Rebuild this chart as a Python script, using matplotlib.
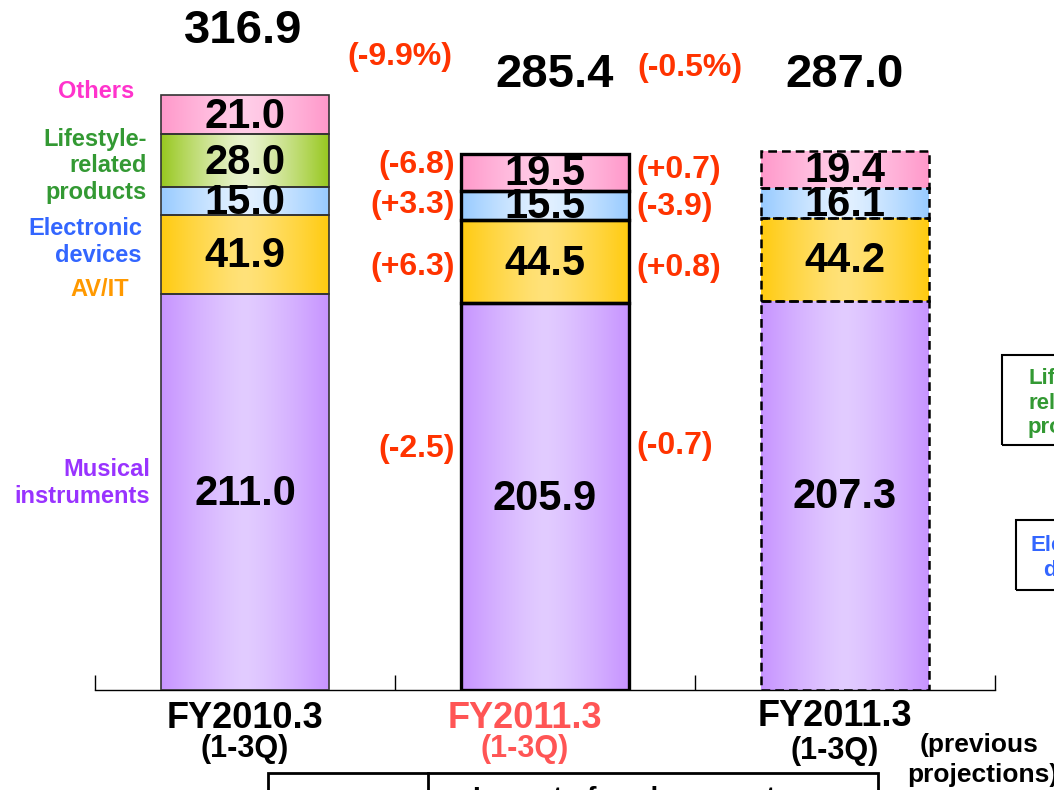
import numpy as np
import matplotlib
matplotlib.use('Agg')
import matplotlib.pyplot as plt
import matplotlib.patches as mpatches
from matplotlib.colors import to_rgb

plt.rcParams['font.family'] = ['Liberation Sans', 'DejaVu Sans']
plt.rcParams['font.weight'] = 'bold'

# data (billion yen), stacked bottom -> top
segments = ["Musical\ninstruments", "AV/IT", "Electronic\ndevices", "Lifestyle-\nrelated\nproducts", "Others"]
musical = [211.0, 205.9, 207.3]
avit = [41.9, 44.5, 44.2]
electronic = [15.0, 15.5, 16.1]
lifestyle = [28.0, 0.0, 0.0]
others = [21.0, 19.5, 19.4]
totals = [316.9, 285.4, 287.0]
periods = ["FY2010.3", "FY2011.3", "FY2011.3"]
period_sub = ["(1-3Q)", "(1-3Q)", "(1-3Q)"]
total_change = ["(-9.9%)", "(-0.5%)"]
yoy_change = ["(-2.5)", "(+6.3)", "(+3.3)", "(-6.8)"]
vs_prev_change = ["(-0.7)", "(+0.8)", "(-3.9)", "(+0.7)"]

W, H = 1054, 790
fig = plt.figure(figsize=(W / 100, H / 100), dpi=100)
ax = fig.add_axes([95 / W, 100 / H, 900 / W, 690 / H])
PXU = 595 / 316.9          # pixels per unit on the value axis
YMAX = 690 / PXU
ax.set_xlim(-0.5, 2.5)
ax.set_ylim(0, YMAX)


def yd(py):
    # pixel row (from top of figure) -> data y
    return (690 - py) / PXU


def xd(px):
    return (px - 95) / 300 - 0.5


grad = {  # (edge colour, centre colour)
    "Musical\ninstruments": ("#C794FF", "#E2CCFF"),
    "AV/IT": ("#FFCB10", "#FFE27A"),
    "Electronic\ndevices": ("#98CBFF", "#E3F1FF"),
    "Lifestyle-\nrelated\nproducts": ("#98C820", "#EAF3D0"),
    "Others": ("#FF98CA", "#FFCDE8"),
}
edge_styles = [dict(edgecolor="#333333", linewidth=1.2, linestyle="-"),
               dict(edgecolor="black", linewidth=2.4, linestyle="-"),
               dict(edgecolor="black", linewidth=1.8, linestyle=(0, (3.5, 2)))]

x = np.arange(3)
bw = 0.557
series = [musical, avit, electronic, lifestyle, others]
t = np.abs(np.linspace(-1, 1, 200)) ** 1.3
bottom = np.zeros(3)
for name, vals in zip(segments, series):
    vals = np.array(vals)
    e, c = np.array(to_rgb(grad[name][0])), np.array(to_rgb(grad[name][1]))
    img = (c[None, :] * (1 - t[:, None]) + e[None, :] * t[:, None])[None, :, :]
    for i in range(3):
        if vals[i] <= 0:
            continue
        bars = ax.bar(x[i], vals[i], bw, bottom=bottom[i], facecolor="none", zorder=3, **edge_styles[i])
        im = ax.imshow(img, extent=[x[i] - bw / 2, x[i] + bw / 2, bottom[i], bottom[i] + vals[i]],
                       aspect="auto", zorder=2, interpolation="bilinear")
        im.set_clip_path(bars.patches[0])
        ax.text(x[i], bottom[i] + vals[i] / 2 - 1.0, "%.1f" % vals[i], ha="center", va="center",
                fontsize=30, fontweight="bold", zorder=4)
    bottom += vals
ax.set_xlim(-0.5, 2.5)
ax.set_ylim(0, YMAX)

# totals
ax.text(xd(243), yd(31), "%.1f" % totals[0], ha="center", va="center", fontsize=34, fontweight="bold")
ax.text(xd(555), yd(75), "%.1f" % totals[1], ha="center", va="center", fontsize=34, fontweight="bold")
ax.text(xd(845), yd(75), "%.1f" % totals[2], ha="center", va="center", fontsize=34, fontweight="bold")

red = "#FF3300"
ax.text(xd(400), yd(57), total_change[0], ha="center", va="center", fontsize=23, color=red)
ax.text(xd(690), yd(68), total_change[1], ha="center", va="center", fontsize=23, color=red)
for lab, py in zip(yoy_change, [449, 267, 205, 165]):
    ax.text(xd(455), yd(py), lab, ha="right", va="center", fontsize=23, color=red)
for lab, py in zip(vs_prev_change, [446, 268, 207, 170]):
    ax.text(xd(636), yd(py), lab, ha="left", va="center", fontsize=23, color=red)

# segment names on the left
ax.text(xd(96), yd(92), "Others", ha="center", va="center", fontsize=17, color="#FF33CC")
ax.text(xd(147), yd(166), segments[3], ha="right", va="center", fontsize=17, color="#339933")
ax.text(xd(142), yd(242), segments[2], ha="right", va="center", fontsize=17, color="#3366FF")
ax.text(xd(100), yd(290), segments[1], ha="center", va="center", fontsize=17, color="#FF9900")
ax.text(xd(150), yd(483), segments[0], ha="right", va="center", fontsize=17, color="#9933FF")

# category labels
cat_colors = ["black", "#FF5555", "black"]
cat_px = [245, 525, 835]
for i in range(3):
    ax.text(xd(cat_px[i]), yd(719 if i < 2 else 716), periods[i], ha="center", va="center",
            fontsize=26, color=cat_colors[i])
    ax.text(xd(cat_px[i]), yd(749 if i < 2 else 751), period_sub[i], ha="center", va="center",
            fontsize=22, color=cat_colors[i])
ax.text(xd(979), yd(745), "(previous", ha="center", va="center", fontsize=19)
ax.text(xd(983), yd(775), "projections)", ha="center", va="center", fontsize=19)

# axis styling
for s in ["top", "left", "right"]:
    ax.spines[s].set_visible(False)
ax.spines["bottom"].set_linewidth(1.0)
ax.set_yticks([])
ax.set_xticks([-0.5, 0.5, 1.5, 2.5])
ax.set_xticklabels([])
ax.tick_params(axis="x", direction="in", length=11, width=1.0)


# boxes cut off at the figure edges
def fig_rect(x0, y0, x1, y1, **kw):
    r = mpatches.Rectangle((x0 / W, 1 - y1 / H), (x1 - x0) / W, (y1 - y0) / H,
                           transform=fig.transFigure, fill=False, **kw)
    fig.add_artist(r)


fig_rect(1002, 355, 1200, 445, edgecolor="black", linewidth=1.5)
fig.text(1028 / W, 1 - 403 / H, "Lifestyle-\nrelated\nproducts", ha="left", va="center",
         fontsize=16, color="#339933")
fig_rect(1016, 520, 1200, 590, edgecolor="black", linewidth=1.5)
fig.text(1084 / W, 1 - 558 / H, "Electronic\ndevices", ha="center", va="center",
         fontsize=16, color="#3366FF")

fig_rect(268, 773, 878, 830, edgecolor="black", linewidth=2)
fig.add_artist(plt.Line2D([428 / W, 428 / W], [1 - 773 / H, 0], transform=fig.transFigure,
                          color="black", linewidth=2))
fig.text(640 / W, 1 - 786 / H, "Impact of exchange rates", ha="center", va="top", fontsize=20)

fig.savefig("out.png", dpi=100)
